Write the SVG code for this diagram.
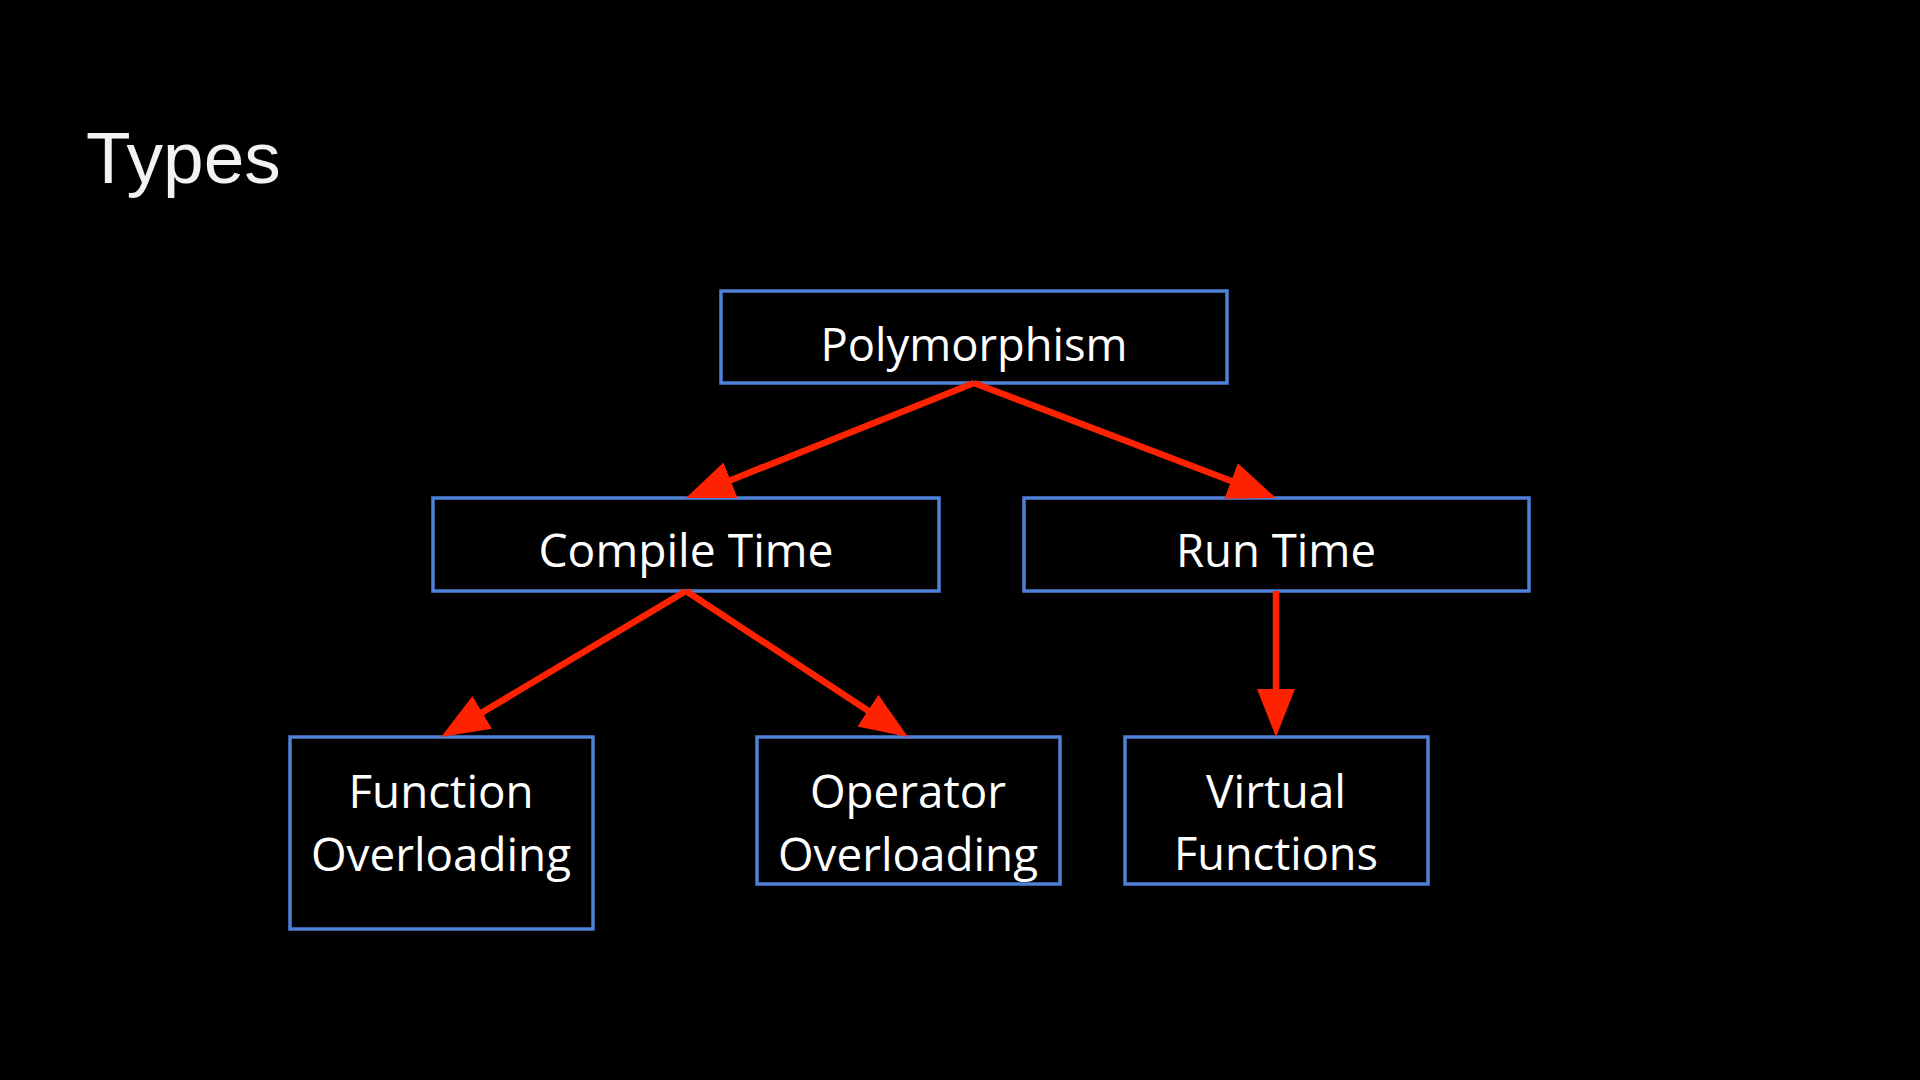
<svg xmlns="http://www.w3.org/2000/svg" width="1920" height="1080" viewBox="0 0 1920 1080">
  <style>
    .box { fill: #000; stroke: #4f81d9; stroke-width: 3.5; }
    .lbl { fill: #ffffff; font-family: "Open Sans", "Noto Sans", "DejaVu Sans", sans-serif; font-size: 45px; text-anchor: middle; }
    .title { fill: #f2f2f2; font-family: "Liberation Sans", Arial, sans-serif; font-size: 73px; }
    .conn { stroke: #ff2200; stroke-width: 6.5; fill: none; marker-end: url(#head); }
  </style>
  <defs>
    <marker id="head" markerUnits="userSpaceOnUse" markerWidth="50" markerHeight="40" refX="8" refY="19" orient="auto">
      <path d="M0,0 L48,19 L0,38 z" fill="#ff2200"/>
    </marker>
  </defs>
  <rect width="1920" height="1080" fill="#000"/>
  <text class="title" x="86" y="183">Types</text>

  <g id="nodes">
    <g id="polymorphism">
      <rect class="box" x="721" y="291" width="506" height="92"/>
      <text class="lbl" x="974" y="361" textLength="307" lengthAdjust="spacingAndGlyphs">Polymorphism</text>
    </g>
    <g id="compile-time">
      <rect class="box" x="433" y="498" width="506" height="93"/>
      <text class="lbl" x="686" y="567" textLength="295" lengthAdjust="spacingAndGlyphs">Compile Time</text>
    </g>
    <g id="run-time">
      <rect class="box" x="1024" y="498" width="505" height="93"/>
      <text class="lbl" x="1276" y="567" textLength="200" lengthAdjust="spacingAndGlyphs">Run Time</text>
    </g>
    <g id="function-overloading">
      <rect class="box" x="290" y="737" width="303" height="192"/>
      <text class="lbl" x="441" y="808" textLength="185" lengthAdjust="spacingAndGlyphs">Function</text>
      <text class="lbl" x="441" y="871" textLength="260" lengthAdjust="spacingAndGlyphs">Overloading</text>
    </g>
    <g id="operator-overloading">
      <rect class="box" x="757" y="737" width="303" height="147"/>
      <text class="lbl" x="908" y="808" textLength="196" lengthAdjust="spacingAndGlyphs">Operator</text>
      <text class="lbl" x="908" y="871" textLength="260" lengthAdjust="spacingAndGlyphs">Overloading</text>
    </g>
    <g id="virtual-functions">
      <rect class="box" x="1125" y="737" width="303" height="147"/>
      <text class="lbl" x="1276" y="808" textLength="140" lengthAdjust="spacingAndGlyphs">Virtual</text>
      <text class="lbl" x="1276" y="870" textLength="204" lengthAdjust="spacingAndGlyphs">Functions</text>
    </g>
  </g>

  <g id="connectors">
    <line class="conn" x1="974" y1="383" x2="723.1" y2="483.2"/>
    <line class="conn" x1="974" y1="383" x2="1238.6" y2="483.8"/>
    <line class="conn" x1="686" y1="591" x2="475.4" y2="716.5"/>
    <line class="conn" x1="686" y1="591" x2="874.6" y2="715"/>
    <line class="conn" x1="1276" y1="591" x2="1276" y2="697"/>
  </g>
</svg>
